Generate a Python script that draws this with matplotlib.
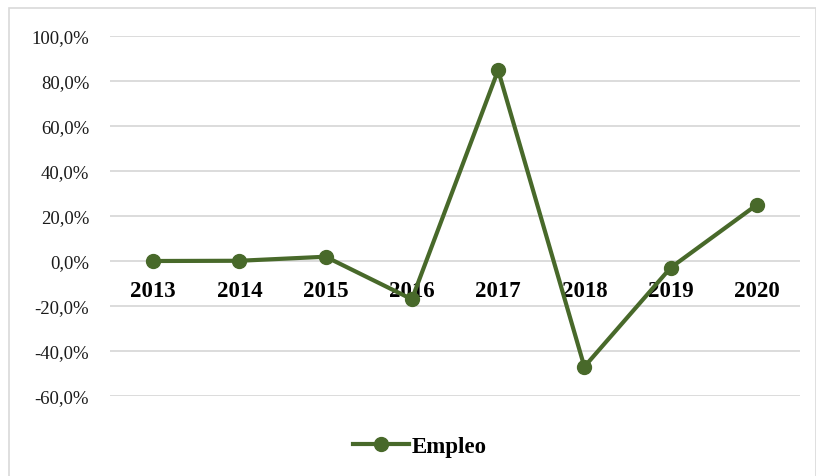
import matplotlib
matplotlib.use("Agg")
import matplotlib.pyplot as plt
from matplotlib.patches import Rectangle
from matplotlib.lines import Line2D
from matplotlib.ticker import FuncFormatter

years = ["2013", "2014", "2015", "2016", "2017", "2018", "2019", "2020"]
empleo = [0.0, 0.1, 1.9, -17.0, 84.8, -47.0, -3.0, 25.0]
series_name = "Empleo"
y_ticks = [-60, -40, -20, 0, 20, 40, 60, 80, 100]

green = "#48692A"
serif = ["Liberation Serif", "DejaVu Serif"]

fig = plt.figure(figsize=(8.16, 4.77), dpi=100)
fig.patch.set_facecolor("white")
fig.patches.append(Rectangle((8.5 / 816, -0.01), (815.5 - 8.5) / 816, 1 - 8.5 / 477 + 0.01,
                             transform=fig.transFigure, fill=False,
                             edgecolor="#d9d9d9", linewidth=1.2))

ax = fig.add_axes([110 / 816, 1 - 397 / 477, (800 - 110) / 816, (397 - 37) / 477])
x = list(range(len(years)))
ax.plot(x, empleo, color=green, linewidth=3.0, marker="o", markersize=10,
        solid_joinstyle="round", solid_capstyle="round", zorder=3)

ax.set_xlim(-0.5, len(years) - 0.5)
ax.set_ylim(-60, 100)
ax.set_yticks(y_ticks)
ax.yaxis.set_major_formatter(FuncFormatter(lambda v, p: f"{v:.1f}%".replace(".", ",")))
ax.grid(axis="y", color="#d9d9d9", linewidth=1.3, zorder=0)
ax.set_axisbelow(True)
for s in ax.spines.values():
    s.set_visible(False)
ax.tick_params(axis="y", length=0, pad=15, labelsize=13.5, labelcolor="#1a1a1a")
for lab in ax.get_yticklabels():
    lab.set_family(serif)

ax.set_xticks([])
for i, yr in enumerate(years):
    ax.annotate(yr, xy=(i, 0), xytext=(0, -13.5), textcoords="offset points",
                ha="center", va="top", fontsize=16.5, fontweight="bold",
                family=serif, color="black", zorder=2)

handle = Line2D([], [], color=green, linewidth=3.0, marker="o", markersize=10)
leg = fig.legend([handle], [series_name], loc="center", bbox_to_anchor=(420 / 816, 1 - 447 / 477),
                 frameon=False, handlelength=2.45, handletextpad=0.12,
                 prop={"family": serif, "weight": "bold", "size": 16.5})

fig.savefig("out.png", dpi=100, facecolor="white")
